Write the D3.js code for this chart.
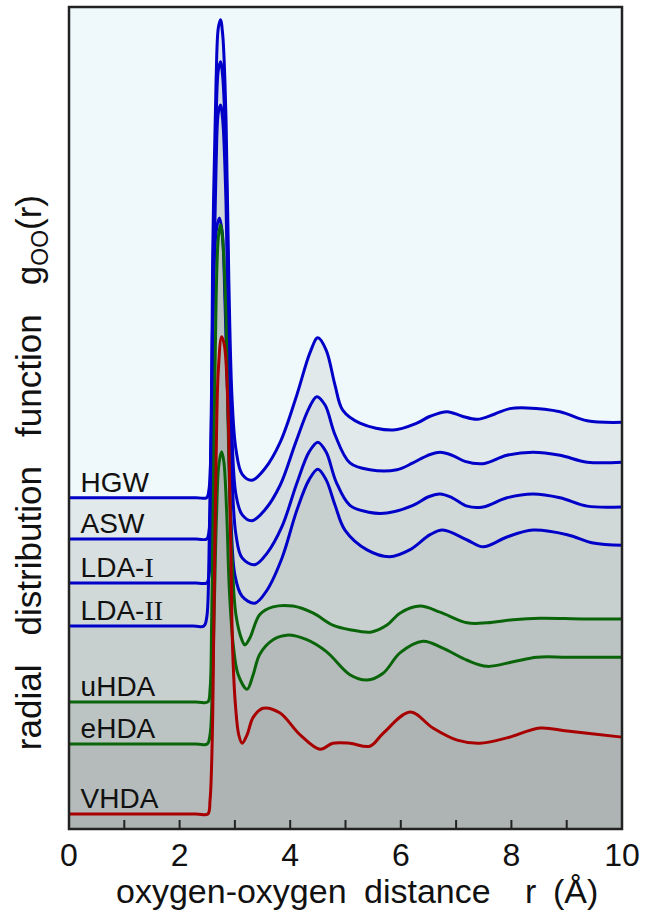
<!DOCTYPE html>
<html lang="en">
<head>
<meta charset="UTF-8">
<title>g_OO(r) of amorphous ices</title>
<style>
  body { margin: 0; background: #fff; }
  text { font-family: "Liberation Sans", Arial, Helvetica, sans-serif; }
  .roman { font-family: "Liberation Serif", "Times New Roman", serif; }
</style>
</head>
<body>
<div id="chart"></div>
<script src="https://cdn.jsdelivr.net/npm/d3@7"></script>
<script>

// ---- data: [r (Å), g(r)], each curve shifted by its offset ----
const names   = ["HGW", "ASW", "LDA-", "LDA-", "uHDA", "eHDA", "VHDA"];
const numerals = ["", "", "I", "II", "", "", ""];
const offsets = [4.353, 3.810, 3.232, 2.667, 1.669, 1.117, 0.197];
const colors  = ["#0000c8", "#0000c8", "#0000c8", "#0000c8", "#0a650a", "#0a650a", "#a80000"];
const fills   = ["#e1e9ea", "#d8dfe0", "#d0d8d8", "#c8d0cf", "#bcc4c3", "#b4bbba", "#adb4b3"];

const hgw = [[0,0],[2.3,0],[2.49,0],[2.53,0.10],[2.57,0.76],[2.60,3.25],[2.66,5.49],[2.70,6.17],[2.74,6.28],
  [2.78,6.08],[2.84,4.96],[2.89,2.86],[2.95,1.28],[3.02,0.63],[3.13,0.31],[3.31,0.23],[3.54,0.38],
  [3.82,0.73],[4.12,1.35],[4.36,1.91],[4.50,2.10],[4.65,1.94],[4.81,1.48],[4.95,1.15],[5.26,0.98],
  [5.86,0.89],[6.29,0.98],[6.53,1.07],[6.84,1.13],[7.11,1.07],[7.38,1.03],[7.70,1.10],[7.97,1.17],
  [8.28,1.18],[8.88,1.13],[9.37,1.01],[10,0.99]];

const asw = [[0,0],[2.3,0],[2.49,0],[2.53,0.09],[2.57,0.78],[2.60,3.27],[2.66,5.51],[2.70,6.16],[2.74,6.27],
  [2.78,6.07],[2.84,4.98],[2.89,2.88],[2.95,1.30],[3.02,0.58],[3.13,0.32],[3.31,0.24],[3.54,0.38],
  [3.82,0.71],[4.10,1.27],[4.34,1.72],[4.48,1.87],[4.63,1.76],[4.81,1.37],[5.08,1.00],[5.44,0.91],
  [5.93,0.91],[6.22,1.00],[6.49,1.10],[6.71,1.14],[6.93,1.10],[7.16,1.02],[7.49,0.99],[7.92,1.10],
  [8.39,1.14],[8.88,1.10],[9.37,1.01],[10,1.01]];

const ldaI = [[0,0],[2.3,0],[2.49,0],[2.53,0.09],[2.57,0.76],[2.60,3.19],[2.66,5.49],[2.70,6.18],[2.74,6.28],
  [2.78,6.08],[2.84,4.97],[2.89,2.93],[2.95,1.36],[3.02,0.63],[3.13,0.33],[3.36,0.24],[3.58,0.39],
  [3.85,0.74],[4.12,1.31],[4.34,1.72],[4.50,1.85],[4.65,1.72],[4.83,1.33],[5.08,1.02],[5.42,0.93],
  [5.75,0.92],[6.22,1.02],[6.49,1.13],[6.71,1.17],[6.93,1.12],[7.20,1.01],[7.49,1.00],[7.92,1.12],
  [8.39,1.17],[8.88,1.12],[9.37,1.01],[10,1.00]];

const ldaII = [[0,0],[2.25,0],[2.44,0],[2.49,0.11],[2.53,0.87],[2.57,2.71],[2.62,4.68],[2.67,5.23],[2.72,5.36],
  [2.77,5.18],[2.82,4.28],[2.88,2.71],[2.93,1.39],[3.00,0.67],[3.13,0.39],[3.36,0.30],[3.58,0.47],
  [3.85,0.89],[4.12,1.52],[4.34,1.92],[4.50,2.06],[4.65,1.92],[4.81,1.59],[4.99,1.26],[5.39,1.00],
  [5.80,0.91],[6.16,1.00],[6.53,1.20],[6.76,1.26],[7.20,1.13],[7.49,1.04],[7.92,1.17],[8.39,1.26],
  [9.01,1.20],[9.48,1.09],[10,1.06]];

const uhda = [[0,0],[2.3,0],[2.51,0],[2.55,0.16],[2.58,1.08],[2.62,3.31],[2.66,5.28],[2.70,6.10],[2.74,6.27],
  [2.78,6.07],[2.84,5.02],[2.89,3.18],[2.95,1.87],[3.02,1.14],[3.13,0.81],[3.18,0.75],[3.27,0.84],
  [3.45,1.15],[3.69,1.25],[4.05,1.26],[4.41,1.17],[4.77,1.01],[5.08,0.95],[5.47,0.92],[5.75,1.01],
  [5.99,1.17],[6.35,1.26],[6.71,1.18],[7.20,1.04],[7.56,1.04],[8.03,1.08],[8.52,1.10],[9.30,1.09],
  [10,1.09]];

const ehda = [[0,0],[2.3,0],[2.50,0],[2.55,0.12],[2.59,0.71],[2.63,1.89],[2.67,3.07],[2.71,3.67],[2.76,3.84],
  [2.80,3.71],[2.85,3.07],[2.90,2.02],[2.97,1.30],[3.06,0.91],[3.22,0.72],[3.33,0.91],[3.45,1.18],
  [3.69,1.37],[3.94,1.43],[4.30,1.37],[4.66,1.21],[5.08,0.91],[5.39,0.84],[5.68,0.93],[5.99,1.20],
  [6.40,1.35],[6.76,1.26],[7.20,1.10],[7.56,1.02],[8.03,1.08],[8.46,1.14],[9.01,1.14],[10,1.14]];

const vhda = [[0,0],[2.3,0],[2.51,0],[2.55,0.18],[2.59,0.97],[2.62,2.55],[2.66,4.65],[2.70,5.83],[2.76,6.27],
  [2.81,6.16],[2.87,5.44],[2.92,3.73],[2.96,2.15],[3.01,1.43],[3.07,1.04],[3.13,0.93],[3.22,1.04],
  [3.33,1.27],[3.51,1.39],[3.81,1.33],[4.18,1.04],[4.54,0.85],[4.77,0.93],[5.08,0.93],[5.44,0.89],
  [5.68,1.06],[6.17,1.34],[6.58,1.13],[7.02,0.97],[7.43,0.93],[7.92,1.00],[8.52,1.13],[9.01,1.09],
  [10,1.01]];

const curves = [hgw, asw, ldaI, ldaII, uhda, ehda, vhda];

const xTicks = [0, 1, 2, 3, 4, 5, 6, 7, 8, 9, 10];
const xLabels = [0, 2, 4, 6, 8, 10];

// ---- layout ----
const W = 646, H = 914;
const margin = {top: 7, right: 24, bottom: 85, left: 69};
const width = W - margin.left - margin.right,
      height = H - margin.top - margin.bottom;

const svg = d3.select("#chart").append("svg")
    .attr("width", W).attr("height", H);

const g = svg.append("g")
    .attr("transform", `translate(${margin.left}, ${margin.top})`);

const x = d3.scaleLinear().domain([0, 10]).range([0, width]);
const y = d3.scaleLinear().domain([0, 10.8]).range([height, 0]);

// background
g.append("rect")
    .attr("width", width).attr("height", height)
    .attr("fill", "#eff8fa");

const curve = d3.curveCatmullRom.alpha(0.5);

const area = off => d3.area()
    .x(d => x(d[0]))
    .y0(height)
    .y1(d => y(d[1] + off))
    .curve(curve);

const line = off => d3.line()
    .x(d => x(d[0]))
    .y(d => y(d[1] + off))
    .curve(curve);

// filled bands, top curve first
curves.forEach((c, i) => {
    g.append("path")
        .datum(c)
        .attr("d", area(offsets[i]))
        .attr("fill", fills[i]);
});

// lines: blue, then green, then red on top
curves.forEach((c, i) => {
    g.append("path")
        .datum(c)
        .attr("d", line(offsets[i]))
        .attr("fill", "none")
        .attr("stroke", colors[i])
        .attr("stroke-width", 3)
        .attr("stroke-linejoin", "round");
});

// curve names
names.forEach((n, i) => {
    const t = g.append("text")
        .attr("x", x(0.21))
        .attr("y", y(offsets[i]) - 6)
        .attr("font-size", 28)
        .attr("fill", "#111")
        .text(n);
    if (numerals[i]) t.append("tspan").attr("class", "roman").text(numerals[i]);
});

// ticks pointing inward
g.append("g")
    .selectAll("line")
    .data(xTicks.slice(1, -1))
    .join("line")
    .attr("x1", d => x(d)).attr("x2", d => x(d))
    .attr("y1", height).attr("y2", height - 9)
    .attr("stroke", "#222")
    .attr("stroke-width", 2);

// frame
g.append("rect")
    .attr("width", width).attr("height", height)
    .attr("fill", "none")
    .attr("stroke", "#222")
    .attr("stroke-width", 2.5);

// tick labels
g.append("g")
    .selectAll("text")
    .data(xLabels)
    .join("text")
    .attr("x", d => x(d))
    .attr("y", height + 37)
    .attr("text-anchor", "middle")
    .attr("font-size", 32)
    .attr("fill", "#111")
    .text(d => d);

// x title, word by word (wide gaps as in the original)
const xt = g.append("text")
    .attr("y", height + 74)
    .attr("font-size", 34)
    .attr("fill", "#111");
[["oxygen-oxygen", 47], ["distance", 295], ["r", 456], ["(Å)", 484]].forEach(([w, px]) => {
    xt.append("tspan").attr("x", px).text(w);
});

// y title, rotated, ends near the top of the frame
const yt = svg.append("text")
    .attr("transform", "translate(41, 195) rotate(-90)")
    .attr("text-anchor", "end")
    .attr("font-size", 35)
    .attr("fill", "#111")
    .attr("xml:space", "preserve");
yt.append("tspan").text("radial   distribution   function   g");
yt.append("tspan").attr("font-size", 23).attr("dy", 7).text("OO");
yt.append("tspan").attr("dy", -7).text("(r)");

</script>
</body>
</html>
